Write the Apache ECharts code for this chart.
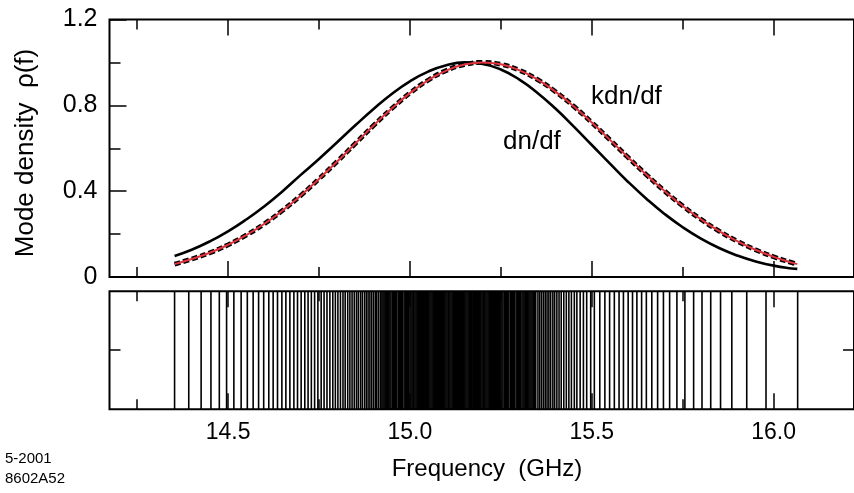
<!DOCTYPE html>
<html>
<head>
<meta charset="utf-8">
<title>Mode density</title>
<script src="https://cdn.jsdelivr.net/npm/echarts@6/dist/echarts.min.js"></script>
<style>
  html, body { margin: 0; padding: 0; background: #fff; }
  #chart { width: 854px; height: 493px; }
</style>
</head>
<body>
<div id="chart"></div>
<script>
// Frequencies (GHz) at which the two density curves are sampled
const curveFreqs = [14.353, 14.40, 14.45, 14.50, 14.55, 14.60, 14.65, 14.70, 14.75, 14.80,
  14.85, 14.90, 14.95, 15.00, 15.05, 15.10, 15.15, 15.20, 15.25, 15.30, 15.35, 15.40,
  15.45, 15.50, 15.55, 15.60, 15.65, 15.70, 15.75, 15.80, 15.85, 15.90, 15.95, 16.00,
  16.05, 16.065];

// Normalised dn/df
const dnDf = [0.098, 0.127, 0.166, 0.213, 0.268, 0.330, 0.400, 0.476, 0.550, 0.628,
  0.707, 0.783, 0.853, 0.912, 0.957, 0.987, 1.000, 0.993, 0.967, 0.921, 0.859, 0.785,
  0.702, 0.615, 0.528, 0.443, 0.365, 0.294, 0.232, 0.179, 0.135, 0.100, 0.073, 0.053,
  0.040, 0.038];

// Normalised k dn/df
const kdnDf = [0.060, 0.084, 0.113, 0.150, 0.195, 0.248, 0.310, 0.380, 0.457, 0.538,
  0.622, 0.706, 0.785, 0.857, 0.917, 0.962, 0.990, 1.000, 0.991, 0.964, 0.921, 0.864,
  0.796, 0.720, 0.639, 0.557, 0.477, 0.401, 0.331, 0.269, 0.214, 0.167, 0.127, 0.094,
  0.067, 0.060];

// Individual mode frequencies (GHz)
const modeFreqs = [
  // lower tail
  14.353, 14.392, 14.426, 14.453, 14.476, 14.496, 14.516, 14.536, 14.553, 14.569,
  14.584, 14.598, 14.612, 14.624, 14.636, 14.648, 14.659, 14.670, 14.681, 14.691,
  14.701, 14.711, 14.720, 14.729, 14.738, 14.747,
  14.756, 14.764, 14.772, 14.780, 14.788, 14.795, 14.802, 14.809, 14.816, 14.822,
  14.829, 14.835, 14.841, 14.847, 14.853, 14.858, 14.864, 14.869, 14.875, 14.880,
  14.885, 14.890, 14.895, 14.900, 14.905, 14.909, 14.914, 14.919, 14.923,
  // dense core
  14.926, 14.929, 14.932, 14.936, 14.939, 14.942, 14.945, 14.948, 14.952, 14.955,
  14.958, 14.961, 14.964, 14.968, 14.971, 14.974, 14.977, 14.980, 14.984, 14.987,
  14.990, 14.993, 14.996, 15.000,
  15.003, 15.006, 15.009, 15.011, 15.014, 15.017, 15.020, 15.023, 15.026, 15.029,
  15.032, 15.035, 15.038, 15.041, 15.043, 15.046, 15.049, 15.052, 15.055, 15.058,
  15.061, 15.064, 15.067, 15.070, 15.073, 15.075, 15.078, 15.081, 15.084, 15.087,
  15.090, 15.093, 15.096, 15.099, 15.102, 15.105, 15.107, 15.110, 15.113, 15.116,
  15.119, 15.122, 15.125, 15.128, 15.131, 15.134, 15.137, 15.139, 15.142, 15.145,
  15.148, 15.151, 15.154, 15.157, 15.160, 15.163, 15.166, 15.169, 15.171, 15.174,
  15.177, 15.180, 15.183, 15.186, 15.189, 15.192, 15.195, 15.198, 15.201, 15.203,
  15.206, 15.209, 15.212, 15.215, 15.218, 15.221, 15.224, 15.227, 15.230, 15.233,
  15.235, 15.238, 15.241, 15.244, 15.247, 15.250,
  15.253, 15.256, 15.260, 15.263, 15.266, 15.269, 15.272, 15.276, 15.279, 15.282,
  15.285, 15.288, 15.292, 15.295, 15.298, 15.301, 15.304, 15.308, 15.311, 15.314,
  15.317, 15.320, 15.324, 15.327, 15.330, 15.333, 15.336, 15.340, 15.343, 15.346,
  // upper tail
  15.352, 15.357, 15.362, 15.367, 15.372, 15.377, 15.382, 15.387, 15.393, 15.398,
  15.404, 15.410, 15.416, 15.423, 15.430, 15.437, 15.444, 15.452, 15.459, 15.468,
  15.477, 15.486, 15.497,
  15.507, 15.522, 15.536, 15.549, 15.562, 15.575, 15.587, 15.600, 15.612, 15.624,
  15.637, 15.650, 15.665, 15.681, 15.697, 15.714, 15.734, 15.756, 15.780, 15.803,
  15.827, 15.854, 15.885, 15.926, 15.979, 16.066
];

// Axis ticks
const xMajorTicks = [14.5, 15.0, 15.5, 16.0];
const xMinorTicks = [14.25, 14.75, 15.25, 15.75];
const yMajorTicks = [0, 0.4, 0.8, 1.2];
const yMinorTicks = [0.2, 0.6, 1.0];
const stripTicks = [0.5];

const X_MIN = 14.1741;
const X_MAX = 16.2209;
const FONT = '"Liberation Sans", Arial, Helvetica, sans-serif';

function xAxisDef(gridIndex, position, ticks, len, showLabels) {
  return {
    type: 'value', gridIndex: gridIndex, position: position,
    min: X_MIN, max: X_MAX,
    axisLine: { show: false },
    splitLine: { show: false },
    axisTick: {
      show: true, inside: true, length: len, customValues: ticks,
      lineStyle: { color: '#000', width: 1.5 }
    },
    axisLabel: showLabels ? {
      show: true, customValues: ticks, margin: 12,
      color: '#000', fontFamily: FONT, fontSize: 23,
      formatter: function (v) { return v.toFixed(1); }
    } : { show: false }
  };
}

function yAxisDef(gridIndex, position, min, max, ticks, len, showLabels) {
  return {
    type: 'value', gridIndex: gridIndex, position: position,
    min: min, max: max,
    axisLine: { show: false },
    splitLine: { show: false },
    axisTick: {
      show: true, inside: true, length: len, customValues: ticks,
      lineStyle: { color: '#000', width: 1.5 }
    },
    axisLabel: showLabels ? {
      show: true, customValues: ticks, margin: 12,
      color: '#000', fontFamily: FONT, fontSize: 25,
      formatter: function (v) { return v === 0 ? '0' : v.toFixed(1); }
    } : { show: false }
  };
}

const toPairs = (ys) => curveFreqs.map((f, i) => [f, ys[i]]);

const chart = echarts.init(document.getElementById('chart'), null, { renderer: 'canvas' });

chart.setOption({
  animation: false,
  backgroundColor: '#fff',
  grid: [
    { left: 109.5, top: 19.5, width: 750.5, height: 257.5, show: true,
      borderColor: '#000', borderWidth: 2, backgroundColor: 'transparent' },
    { left: 109.5, top: 291.2, width: 750.5, height: 118, show: true,
      borderColor: '#000', borderWidth: 2, backgroundColor: 'transparent' }
  ],
  xAxis: [
    xAxisDef(0, 'bottom', xMajorTicks, 16, false),
    xAxisDef(0, 'bottom', xMinorTicks, 10, false),
    xAxisDef(0, 'top', xMajorTicks, 16, false),
    xAxisDef(0, 'top', xMinorTicks, 10, false),
    xAxisDef(1, 'bottom', xMajorTicks, 16, true),
    xAxisDef(1, 'bottom', xMinorTicks, 10, false),
    xAxisDef(1, 'top', xMajorTicks, 16, false),
    xAxisDef(1, 'top', xMinorTicks, 10, false)
  ],
  yAxis: [
    yAxisDef(0, 'left', 0, 1.2, yMajorTicks, 17, true),
    yAxisDef(0, 'left', 0, 1.2, yMinorTicks, 11, false),
    yAxisDef(1, 'left', 0, 1, stripTicks, 11, false),
    yAxisDef(1, 'right', 0, 1, stripTicks, 11, false)
  ],
  series: [
    {
      name: 'modes', type: 'custom', xAxisIndex: 4, yAxisIndex: 2,
      data: modeFreqs.map(f => [f, 1]),
      encode: { x: 0, y: 1 },
      renderItem: function (params, api) {
        const f = api.value(0);
        const p0 = api.coord([f, 0]);
        const p1 = api.coord([f, 1]);
        return {
          type: 'line',
          shape: { x1: p0[0], y1: p0[1], x2: p1[0], y2: p1[1] },
          style: { stroke: '#000', lineWidth: 1.6 }
        };
      }
    },
    {
      name: 'dn/df', type: 'line', xAxisIndex: 0, yAxisIndex: 0,
      data: toPairs(dnDf), smooth: true, showSymbol: false, symbol: 'none',
      lineStyle: { color: '#000', width: 2.6 }
    },
    {
      name: 'kdn/df dashed', type: 'line', xAxisIndex: 0, yAxisIndex: 0,
      data: toPairs(kdnDf), smooth: true, showSymbol: false, symbol: 'none',
      lineStyle: { color: '#000', width: 4.8, type: [6, 3] }
    },
    {
      name: 'kdn/df', type: 'line', xAxisIndex: 0, yAxisIndex: 0,
      data: toPairs(kdnDf), smooth: true, showSymbol: false, symbol: 'none',
      lineStyle: { color: '#e0323c', width: 2 }
    }
  ],
  graphic: [
    { type: 'text', left: 591, top: 84,
      style: { text: 'kdn/df', fill: '#000', font: '26px ' + FONT } },
    { type: 'text', left: 503, top: 129,
      style: { text: 'dn/df', fill: '#000', font: '26px ' + FONT } },
    { type: 'text', x: 26, y: 153, rotation: Math.PI / 2,
      style: { text: 'Mode density  \u03c1(f)', fill: '#000', font: '26px ' + FONT,
        align: 'center', verticalAlign: 'middle' } },
    { type: 'text', x: 487, y: 469,
      style: { text: 'Frequency  (GHz)', fill: '#000', font: '24px ' + FONT,
        align: 'center', verticalAlign: 'middle' } },
    { type: 'text', x: 5, y: 459,
      style: { text: '5-2001', fill: '#000', font: '15px ' + FONT,
        align: 'left', verticalAlign: 'middle' } },
    { type: 'text', x: 5, y: 479,
      style: { text: '8602A52', fill: '#000', font: '15px ' + FONT,
        align: 'left', verticalAlign: 'middle' } }
  ]
});
</script>
</body>
</html>
